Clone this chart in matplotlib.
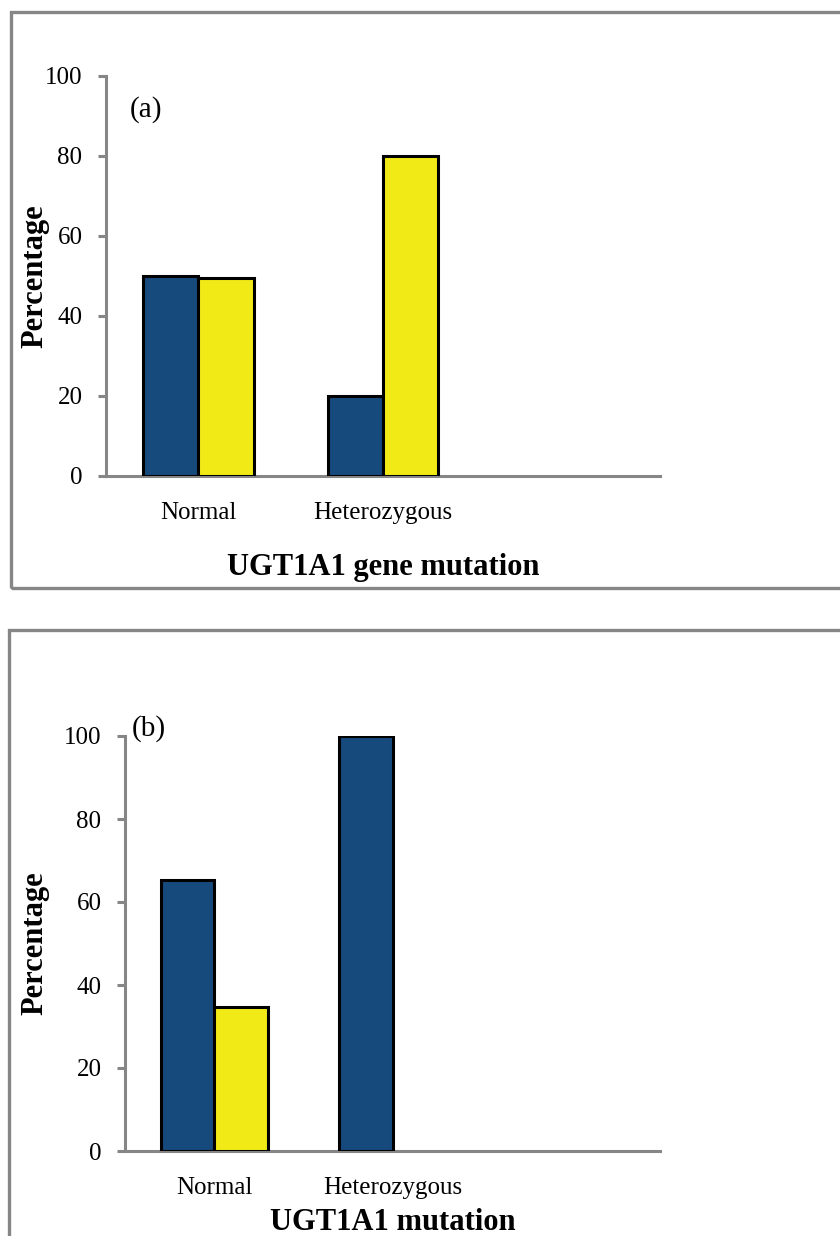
import numpy as np
import matplotlib
matplotlib.use("Agg")
import matplotlib.pyplot as plt
from matplotlib.patches import Rectangle

# data
categories = ["Normal", "Heterozygous", ""]
blue_a = [50.0, 20.0, 0.0]
yellow_a = [49.5, 80.0, 0.0]
blue_b = [65.2, 100.0, 0.0]
yellow_b = [34.8, 0.0, 0.0]
yticks = [0, 20, 40, 60, 80, 100]

BLUE = "#174A7C"
YELLOW = "#F1EA17"
GREY = "#868686"

plt.rcParams["font.family"] = ["Liberation Serif", "DejaVu Serif"]

fig = plt.figure(figsize=(8.4, 12.36), dpi=100)
W, H = 840.0, 1236.0


def frame(x0, y0, x1, y1):
    # grey outline round each panel (pixel coords, y from top)
    r = Rectangle((x0 / W, 1 - y1 / H), (x1 - x0) / W, (y1 - y0) / H,
                  transform=fig.transFigure, fill=False, edgecolor=GREY,
                  linewidth=2.4, clip_on=False)
    fig.add_artist(r)


def panel(rect, blue, yellow, tag, tag_xy, xtitle, xtitle_y, ylab_x):
    ax = fig.add_axes(rect)
    x = np.arange(len(categories))
    w = 0.3
    for i in x:
        if blue[i] > 0:
            ax.bar(i - w / 2, blue[i], w, color=BLUE, edgecolor="black", linewidth=2.2, zorder=3)
        if yellow[i] > 0:
            ax.bar(i + w / 2, yellow[i], w, color=YELLOW, edgecolor="black", linewidth=2.2, zorder=3)
    ax.set_xlim(-0.5, 2.5)
    ax.set_ylim(0, 100)
    ax.set_yticks(yticks)
    ax.set_xticks(x)
    ax.set_xticklabels(categories)
    for s in ["top", "right"]:
        ax.spines[s].set_visible(False)
    for s in ["left", "bottom"]:
        ax.spines[s].set_color(GREY)
        ax.spines[s].set_linewidth(2.2)
    ax.tick_params(axis="y", direction="out", length=6, width=2.2, color=GREY,
                   labelsize=18, pad=11)
    ax.tick_params(axis="x", length=0, labelsize=18, pad=19)
    ax.set_ylabel("Percentage", fontsize=22, fontweight="bold", va="center")
    ax.yaxis.set_label_coords(ylab_x, 0.5)
    ax.set_xlabel(xtitle, fontsize=22, fontweight="bold", va="center")
    ax.xaxis.set_label_coords(0.5, xtitle_y)
    ax.text(tag_xy[0], tag_xy[1], tag, transform=ax.transAxes, fontsize=21,
            ha="left", va="center")
    return ax


frame(11, 12, 860, 588)
frame(9, 630, 860, 1260)

panel([106 / W, 1 - 476 / H, 554 / W, 400 / H], blue_a, yellow_a, "(a)",
      (0.043, 0.915), "UGT1A1 gene mutation", -0.23, -0.128)
panel([125 / W, 1 - 1151 / H, 535 / W, 415 / H], blue_b, yellow_b, "(b)",
      (0.013, 1.019), "UGT1A1 mutation", -0.173, -0.168)

fig.savefig("out.png", dpi=100)
